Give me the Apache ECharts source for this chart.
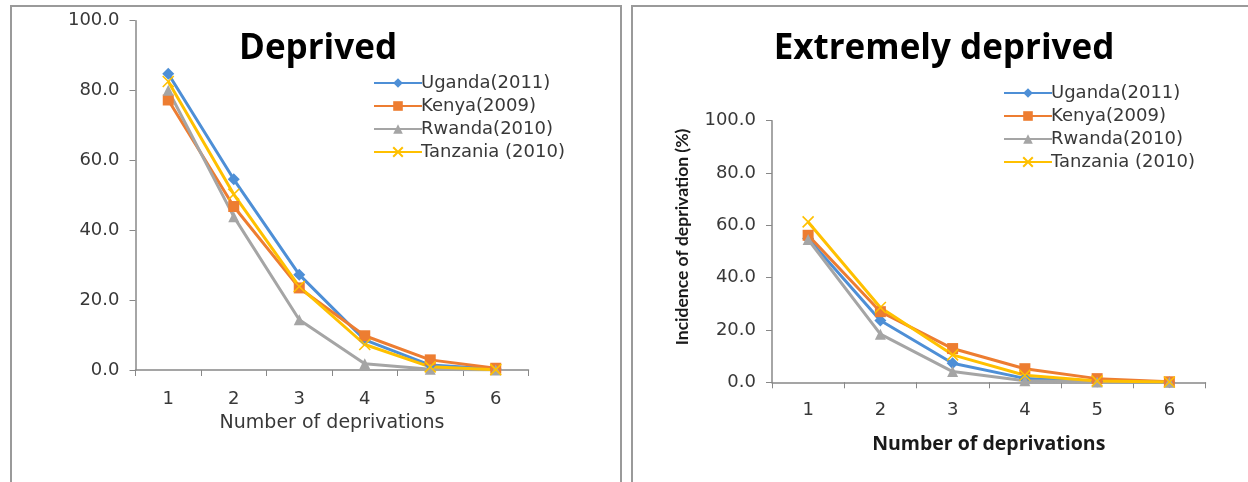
<!DOCTYPE html>
<html>
<head>
<meta charset="utf-8">
<script src="https://cdn.jsdelivr.net/npm/echarts@6/dist/echarts.min.js"></script>
<style>
  html, body { margin: 0; padding: 0; background: #fff; }
  #main { width: 1248px; height: 482px; }
</style>
</head>
<body>
<div id="main"></div>
<script>
// categories: number of deprivations
const categories = ['1', '2', '3', '4', '5', '6'];
const countries = ['Uganda(2011)', 'Kenya(2009)', 'Rwanda(2010)', 'Tanzania (2010)'];

// deprived (%)
const deprivedUganda = [84.8, 54.6, 27.3, 8.6, 1.4, 0.3];
const deprivedKenya = [77.3, 46.8, 23.5, 9.8, 2.9, 0.5];
const deprivedRwanda = [80.1, 43.9, 14.4, 1.8, 0.2, 0.0];
const deprivedTanzania = [82.6, 50.3, 23.9, 7.3, 0.9, 0.1];

// extremely deprived (%)
const extremeUganda = [55.0, 23.6, 7.3, 1.5, 0.3, 0.0];
const extremeKenya = [56.2, 27.0, 12.9, 5.2, 1.4, 0.2];
const extremeRwanda = [54.6, 18.4, 4.1, 0.6, 0.1, 0.0];
const extremeTanzania = [61.3, 28.6, 10.5, 2.7, 0.5, 0.1];

const yTicks = [0, 20, 40, 60, 80, 100];

const colors = ['#4e8fd6', '#ed7d31', '#a5a5a5', '#ffc000'];
const symbols = ['diamond', 'rect', 'triangle', 'path://M0,0L10,10M10,0L0,10'];
const symbolSizes = [12, 11, 11, 11];

const chart = echarts.init(document.getElementById('main'));

const labelFont = { fontFamily: 'DejaVu Sans', fontSize: 18, color: '#383838' };

function makeSeries(idx, data, axisIdx) {
  const isCross = idx === 3;
  return {
    name: countries[idx],
    type: 'line',
    xAxisIndex: axisIdx,
    yAxisIndex: axisIdx,
    data: data,
    symbol: symbols[idx],
    symbolSize: symbolSizes[idx],
    showAllSymbol: true,
    lineStyle: { color: colors[idx], width: 3 },
    itemStyle: {
      color: colors[idx],
      borderColor: colors[idx],
      borderWidth: isCross ? 1.6 : 0
    },
    animation: false
  };
}

function yAxisCfg(gridIdx) {
  return {
    type: 'value',
    gridIndex: gridIdx,
    min: yTicks[0],
    max: yTicks[yTicks.length - 1],
    interval: 20,
    axisLine: { show: true, lineStyle: { color: '#888888', width: 1.5 } },
    axisTick: { show: true, inside: false, length: 6, lineStyle: { color: '#888888' } },
    splitLine: { show: false },
    axisLabel: Object.assign({ margin: 16, formatter: v => v.toFixed(1) }, labelFont)
  };
}

function xAxisCfg(gridIdx, name, bold, margin, gap) {
  return {
    type: 'category',
    gridIndex: gridIdx,
    data: categories,
    boundaryGap: true,
    axisLine: { lineStyle: { color: '#888888', width: 1.5 } },
    axisTick: { show: true, length: 6, lineStyle: { color: '#888888' } },
    axisLabel: Object.assign({ margin: margin }, labelFont),
    name: name,
    nameLocation: 'middle',
    nameGap: gap,
    nameTextStyle: bold
      ? { fontFamily: 'Open Sans', fontWeight: 'bold', fontSize: 19.5, color: '#1a1a1a' }
      : { fontFamily: 'DejaVu Sans', fontSize: 19, color: '#383838' }
  };
}

const legendText = { fontFamily: 'DejaVu Sans', fontSize: 18, color: '#383838', padding: [0, 0, 0, -6] };

const option = {
  backgroundColor: '#ffffff',
  animation: false,
  title: [
    {
      text: 'Deprived', left: 313, top: 27, textAlign: 'center',
      textStyle: { fontFamily: 'Open Sans', fontWeight: 'bold', fontSize: 35, color: '#000' }
    },
    {
      text: 'Extremely deprived', left: 939, top: 27, textAlign: 'center',
      textStyle: { fontFamily: 'Open Sans', fontWeight: 'bold', fontSize: 35, color: '#000' }
    }
  ],
  legend: [
    {
      data: countries.map(n => ({ name: n })),
      orient: 'vertical', left: 368, top: 69, itemWidth: 48, itemHeight: 12, itemGap: 5,
      textStyle: legendText
    },
    {
      data: countries.map(n => ({ name: n })),
      orient: 'vertical', left: 998, top: 79, itemWidth: 48, itemHeight: 12, itemGap: 5,
      textStyle: legendText
    }
  ],
  grid: [
    { left: 135.5, top: 20.7, width: 393, height: 349.3 },
    { left: 772, top: 120.7, width: 433.5, height: 261.6 }
  ],
  xAxis: [
    xAxisCfg(0, 'Number of deprivations', false, 20, 44),
    xAxisCfg(1, 'Number of deprivations', true, 19, 52)
  ],
  yAxis: [yAxisCfg(0), yAxisCfg(1)],
  graphic: [
    {
      type: 'rect', shape: { x: 11, y: 6, width: 610, height: 500 },
      style: { fill: null, stroke: '#9a9a9a', lineWidth: 2 }, silent: true
    },
    {
      type: 'rect', shape: { x: 632, y: 6, width: 640, height: 500 },
      style: { fill: null, stroke: '#9a9a9a', lineWidth: 2 }, silent: true
    },
    {
      type: 'text', x: 682, y: 237, rotation: Math.PI / 2,
      style: {
        text: 'Incidence of deprivation (%)', align: 'center', verticalAlign: 'middle',
        font: 'bold 17.5px Lato', fill: '#1a1a1a'
      },
      silent: true
    }
  ],
  series: [
    makeSeries(0, deprivedUganda, 0),
    makeSeries(1, deprivedKenya, 0),
    makeSeries(2, deprivedRwanda, 0),
    makeSeries(3, deprivedTanzania, 0),
    makeSeries(0, extremeUganda, 1),
    makeSeries(1, extremeKenya, 1),
    makeSeries(2, extremeRwanda, 1),
    makeSeries(3, extremeTanzania, 1)
  ]
};

chart.setOption(option);
</script>
</body>
</html>
